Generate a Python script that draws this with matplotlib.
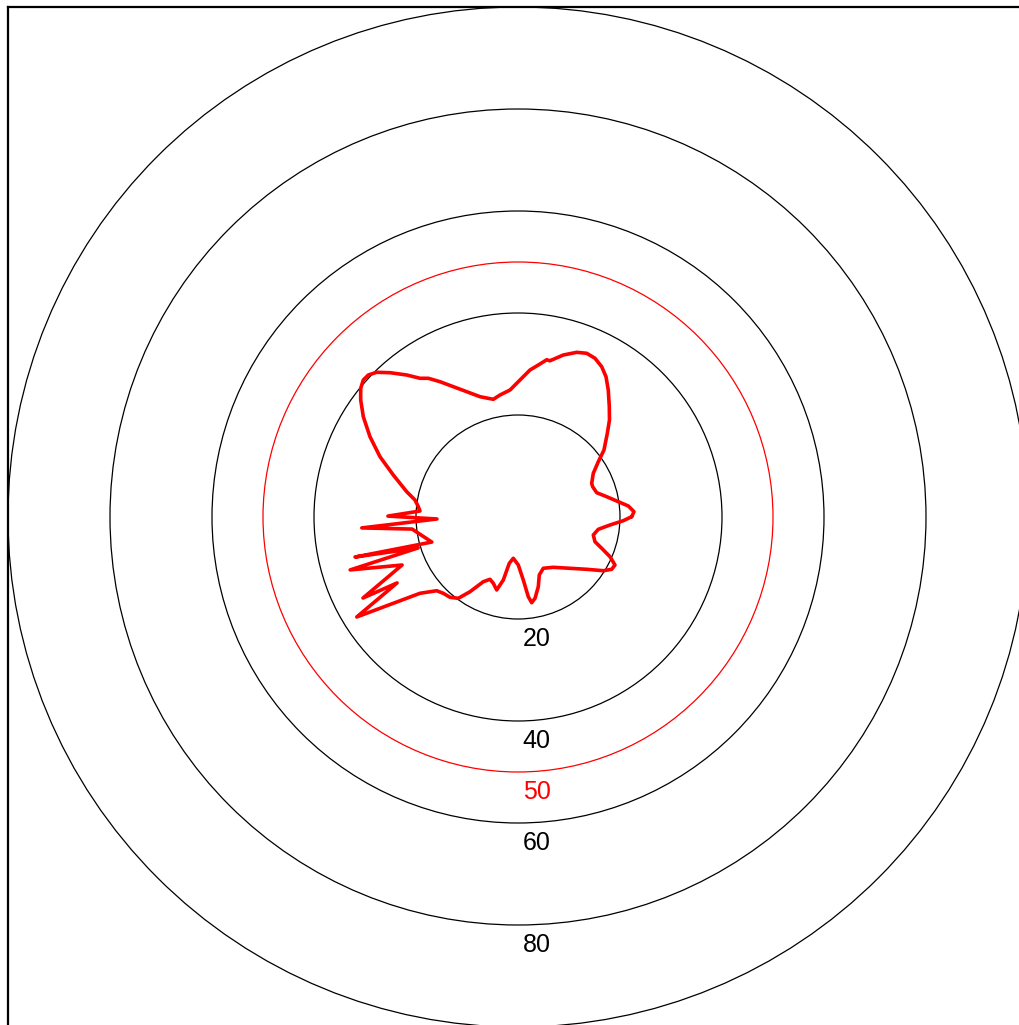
import numpy as np
import matplotlib
matplotlib.use("Agg")
import matplotlib.pyplot as plt
from matplotlib.patches import Circle

plt.rcParams['font.family'] = ['Liberation Sans', 'DejaVu Sans']

# Reference rings and their labels
ring_values = [20, 40, 60, 80, 100]
ring_labels = ["20", "40", "60", "80"]
highlight_ring = 50

# Polar profile: direction (degrees, counter-clockwise from east) and magnitude
theta_deg = [0.15, 2.62, 5.69, 8.67, 12.89, 17.16, 22.07, 24.57, 30.13, 34.55,
             37.92, 43.14, 46.67, 50.39, 54.59, 57.9, 60.88, 64.12, 67.24, 70.38,
             74.38, 77.33, 78.53, 79.64, 81.82, 85.33, 89.16, 93.6, 98.39, 101.85,
             107.53, 112.26, 116.41, 119.96, 122.89, 125.24, 128.09, 131.57, 134.32,
             136.51, 138.47, 140.71, 143.36, 147.04, 151.52, 156.4, 161.39, 167.19,
             170.63, 174.1, 176.5,
             179.6, 181.4, 184.0, 186.5, 196.2, 193.8, 197.2, 197.5, 202.5, 207.6,
             208.6, 211.8,
             217.9, 222.2, 225.61, 229.74, 233.71, 237.28, 241.8, 245.8, 249.57,
             253.73, 256.87, 259.36, 263.51, 270.36, 274.81, 277.36, 279.08, 281.81,
             286.24, 290.16, 296.26, 305.06, 315.38, 322.72, 327.81, 330.83, 333.67,
             336.66, 339.5, 342.22, 346.56, 351.29, 355.03, 357.99, 360.15]
radius = [22.29, 22.77, 21.74, 19.9, 17.84, 16.15, 15.8, 15.89, 17.07, 19.12,
          21.37, 24.0, 26.14, 28.08, 30.55, 32.47, 33.73, 34.59, 34.81, 34.28,
          32.98, 31.7, 31.25, 31.35, 30.31, 28.92, 26.87, 24.95, 24.18, 23.58,
          24.74, 26.55, 28.53, 30.62, 32.39, 33.3, 35.38, 37.82, 39.66,
          40.46, 40.52, 39.85, 38.44, 36.15, 33.02, 29.53, 25.8, 22.38,
          20.47, 19.65, 19.25,
          25.5, 15.9, 30.7, 20.9, 17.6, 32.9, 20.5, 34.5, 24.6, 34.3,
          27.0, 37.2,
          24.35, 21.52, 20.94, 20.63, 19.78, 17.41, 14.4, 13.39, 13.87,
          14.91, 12.68, 9.24, 8.15, 9.41, 12.4, 15.76, 17.02, 16.29,
          14.23, 12.11, 11.21, 12.05, 14.32, 16.93, 19.77, 21.04, 21.22,
          19.65, 17.52, 15.85, 15.18, 15.93, 18.1, 20.66, 22.29]

fig = plt.figure(figsize=(10.20, 10.25), dpi=100)
ax = fig.add_axes([8 / 1020, 1 - 1027 / 1025, 1020 / 1020, 1020 / 1025])
ax.set_xlim(-100, 100)
ax.set_ylim(-100, 100)
ax.set_xticks([])
ax.set_yticks([])
for side in ("left", "top"):
    ax.spines[side].set_linewidth(1.6)
for side in ("right", "bottom"):
    ax.spines[side].set_visible(False)

for r in ring_values:
    ax.add_patch(Circle((0, 0), r, fill=False, edgecolor="black", lw=0.9))
ax.add_patch(Circle((0, 0), highlight_ring, fill=False, edgecolor="red", lw=0.9))

for r, lab in zip(ring_values[:4], ring_labels):
    ax.text(3.7, -(r + 4.0), lab, ha="center", va="center", fontsize=18, color="black")
ax.text(3.7, -(highlight_ring + 4.0), str(highlight_ring), ha="center", va="center",
        fontsize=18, color="red")

t = np.deg2rad(np.array(theta_deg))
rr = np.array(radius)
ax.plot(rr * np.cos(t), rr * np.sin(t), color="red", lw=2.6,
        solid_joinstyle="round", solid_capstyle="round")

fig.savefig("out.png", dpi=100)
